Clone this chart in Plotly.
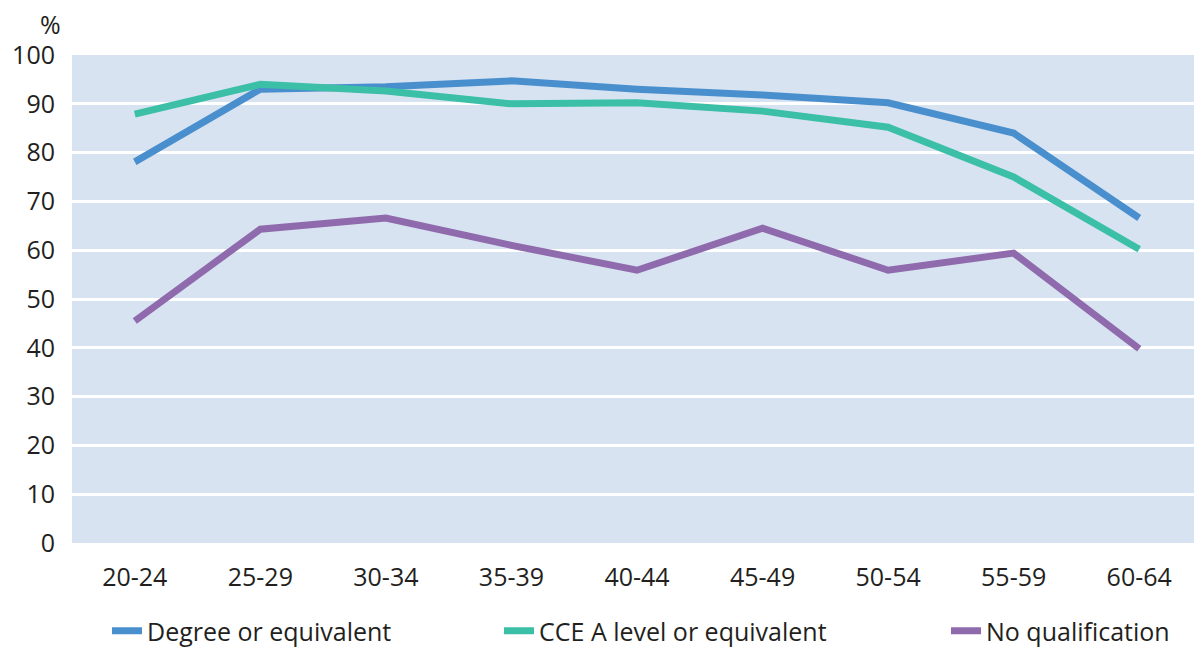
import plotly.graph_objects as go

categories = ["20-24", "25-29", "30-34", "35-39", "40-44", "45-49", "50-54", "55-59", "60-64"]
degree = [78.1, 93.0, 93.5, 94.7, 93.0, 91.8, 90.2, 84.0, 66.6]
cce_a_level = [87.9, 94.0, 92.6, 90.0, 90.2, 88.5, 85.2, 75.0, 60.2]
no_qualification = [45.5, 64.3, 66.6, 61.0, 55.9, 64.5, 55.9, 59.4, 39.8]
y_ticks = list(range(0, 101, 10))

series = [
    ("Degree or equivalent", degree, "#4A8FCD", "legend"),
    ("CCE A level or equivalent", cce_a_level, "#3BBFA6", "legend2"),
    ("No qualification", no_qualification, "#8F6BAD", "legend3"),
]

FONT = "Open Sans"
TXT = "#231F20"
FS = 25

fig = go.Figure()
for name, vals, color, lg in series:
    fig.add_trace(go.Scatter(
        x=categories, y=vals, name=name, mode="lines",
        line=dict(color=color, width=7),
        legend=lg, showlegend=True,
    ))

# page body has an 8px margin; figure sized so the plot ends at the window's right edge
W, H = 1194, 642
ML, MT, MR, MB = 64, 47, 0, 107
PW = W - ML - MR
PH = H - MT - MB

def px_x(px):
    return (px - 8 - ML) / PW

def px_y(py):
    return (H - MB - (py - 8)) / PH

leg_common = dict(orientation="h", yanchor="middle", y=px_y(631), xanchor="left",
                  font=dict(family=FONT, size=FS, color=TXT), bgcolor="rgba(0,0,0,0)")

fig.update_layout(
    width=W, height=H,
    showlegend=True,
    margin=dict(l=ML, r=MR, t=MT, b=MB, autoexpand=False),
    paper_bgcolor="white",
    plot_bgcolor="#D8E3F2",
    font=dict(family=FONT, size=FS, color=TXT),
    xaxis=dict(
        type="category", range=[-0.5, 8.5],
        showgrid=False, zeroline=False, showline=False,
        ticks="", ticklabelstandoff=17, automargin=False,
        tickfont=dict(family=FONT, size=FS, color=TXT),
    ),
    yaxis=dict(
        range=[0, 100], tickvals=y_ticks,
        showgrid=True, gridcolor="white", gridwidth=2.5,
        zeroline=False, showline=False,
        ticks="", ticklabelstandoff=16, automargin=False,
        tickfont=dict(family=FONT, size=FS, color=TXT),
    ),
    legend=dict(x=px_x(107), **leg_common),
    legend2=dict(x=px_x(499), **leg_common),
    legend3=dict(x=px_x(946), **leg_common),
    annotations=[dict(
        text="%", xref="paper", yref="paper", x=px_x(63), y=px_y(24),
        xanchor="right", yanchor="middle", showarrow=False,
        font=dict(family=FONT, size=FS, color=TXT),
    )],
)

fig.write_html("out.html")
